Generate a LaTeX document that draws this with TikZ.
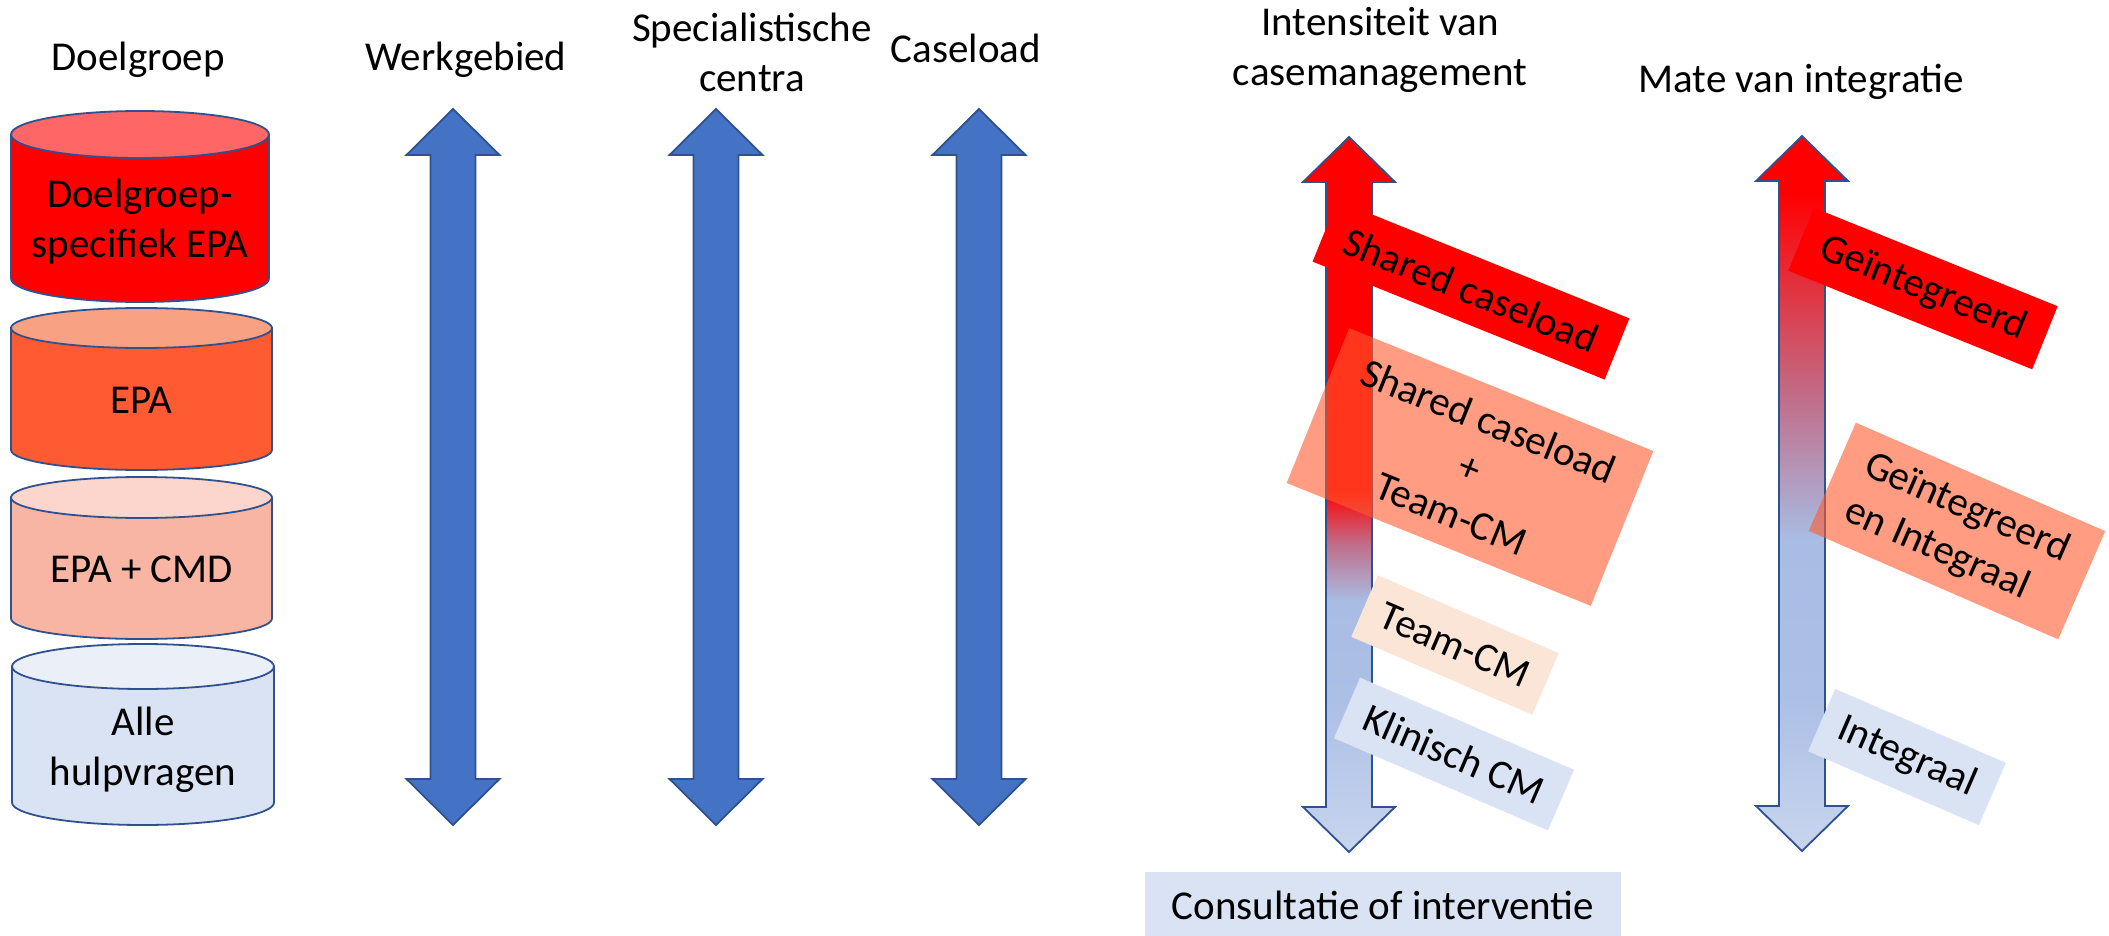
\documentclass[tikz,border=0pt]{standalone}
\usepackage{fontspec}
\setmainfont{Carlito}
\definecolor{outl}{HTML}{2F528F}
\definecolor{ablue}{HTML}{4472C4}
\definecolor{cyla}{HTML}{FF0000}
\definecolor{cylat}{HTML}{FF6666}
\definecolor{cylb}{HTML}{FF5B33}
\definecolor{cylbt}{HTML}{F9A183}
\definecolor{cylc}{HTML}{F8B5A3}
\definecolor{cylct}{HTML}{FCD6CD}
\definecolor{cyld}{HTML}{DAE3F3}
\definecolor{cyldt}{HTML}{EAEFF8}
\definecolor{peach}{HTML}{FBE5D6}
\definecolor{lblue}{HTML}{DAE3F3}
\definecolor{salm}{HTML}{FF5A2E}
\definecolor{gbone}{HTML}{A9BCE3}
\definecolor{gbtwo}{HTML}{ACBFE5}
\definecolor{gbthree}{HTML}{C8D5EE}
\definecolor{gmid}{HTML}{C06E8A}
\pgfdeclareverticalshading{gradA}{100bp}{color(0bp)=(gbthree); color(25bp)=(gbthree); color(35.6bp)=(gbtwo); color(42.6bp)=(gbone); color(46.5bp)=(gmid); color(50.3bp)=(red); color(75bp)=(red); color(100bp)=(red)}
\pgfdeclareverticalshading{gradB}{100bp}{color(0bp)=(gbthree); color(25bp)=(gbthree); color(35.7bp)=(gbtwo); color(46.8bp)=(gbone); color(56.6bp)=(gmid); color(71bp)=(red); color(75bp)=(red); color(100bp)=(red)}
\newcommand{\mycyl}[7]{%
  \path[cylline, fill=#6] (#1-#2,#3) -- (#1-#2,#4) arc[start angle=180, end angle=360, x radius=#2pt, y radius=#5pt] -- (#1+#2,#3) -- cycle;
  \path[cylline, fill=#7] (#1,#3) ellipse[x radius=#2pt, y radius=#5pt];
}
\newcommand{\dblarrow}[7]{% style, cx, ytop, ybot, headlen, headhalf, shafthalf
  \path[#1] (#2,#3) -- (#2+#6,#3+#5) -- (#2+#7,#3+#5) -- (#2+#7,#4-#5) -- (#2+#6,#4-#5) -- (#2,#4)
    -- (#2-#6,#4-#5) -- (#2-#7,#4-#5) -- (#2-#7,#3+#5) -- (#2-#6,#3+#5) -- cycle;
}
\tikzset{
  txt/.style={font=\fontsize{41}{50}\selectfont, inner sep=0pt, text=black},
  box/.style={txt, minimum width=#1},
  cylline/.style={draw=outl, line width=1.8pt},
  barrow/.style={fill=ablue, draw=outl, line width=1.8pt, line join=miter},
  garrowA/.style={shading=gradA, draw=outl, line width=1.8pt},
  garrowB/.style={shading=gradB, draw=outl, line width=1.8pt},
}
\begin{document}
\begin{tikzpicture}[x=1pt, y=-1pt]
\useasboundingbox (0,0) rectangle (2109,936);
% cylinders
\mycyl{140}{129}{134.5}{278.5}{23.5}{cyla}{cylat}
\mycyl{141.5}{130.5}{328}{450}{20}{cylb}{cylbt}
\mycyl{141.5}{130.5}{497.5}{618.5}{20.5}{cylc}{cylct}
\mycyl{143}{131}{666.5}{802.5}{22.5}{cyld}{cyldt}
\node[txt, align=center] (c1) at (140,222) {Doelgroep-\\specifiek EPA};
\node[txt] (c2) at (141.5,400) {EPA};
\node[txt] (c3) at (141.5,569) {EPA + CMD};
\node[txt, align=center] (c4) at (143,750) {Alle\\hulpvragen};
% headers
\node[txt, anchor=base] (h1) at (138,71) {Doelgroep};
\node[txt, anchor=base] (h2) at (466,71) {Werkgebied};
\node[txt, align=center] (h3) at (752,52) {Specialistische\\centra};
\node[txt, anchor=base] (h4) at (966,63) {Caseload};
\node[txt, align=center] (h5) at (1380,50) {Intensiteit van\\casemanagement};
\node[txt, anchor=base] (h6) at (1801,93) {Mate van integratie};
% blue double arrows
\dblarrow{barrow}{453}{109}{825}{46}{46.5}{22.5}
\dblarrow{barrow}{716}{109}{825}{46}{46.5}{22.5}
\dblarrow{barrow}{979}{109}{825}{46}{46.5}{22.5}
% gradient arrows
\dblarrow{garrowA}{1349}{137}{852}{45}{46}{23}
\dblarrow{garrowB}{1802}{136}{851}{45}{46}{23}
% boxes of intensity
\node[box=328, minimum height=167, fill=salm, fill opacity=0.6, text opacity=1, rotate=-22, align=center] (b2) at (1470,467) {Shared caseload\\+\\Team-CM};
\node[box=315, minimum height=66, fill=red, rotate=-22] (b1) at (1471,290) {Shared caseload};
\node[box=197, minimum height=67, fill=peach, rotate=-23.3] (b3) at (1455,645) {Team-CM};
\node[box=233, minimum height=66, fill=lblue, rotate=-23.3] (b4) at (1454,754) {Klinisch CM};
% boxes of integration
\node[box=272, minimum height=118, fill=salm, fill opacity=0.6, text opacity=1, rotate=-23.5, align=left] (b6) at (1957,531) {Geïntegreerd\\en Integraal};
\node[box=263, minimum height=68, fill=red, rotate=-22] (b5) at (1923,288.5) {Geïntegreerd};
\node[box=186, minimum height=68, fill=lblue, rotate=-23.4] (b7) at (1907,757) {Integraal};
% bottom label
\node[box=476, minimum height=66, fill=lblue] (cons) at (1383,905) {Consultatie of interventie};
\end{tikzpicture}
\end{document}
